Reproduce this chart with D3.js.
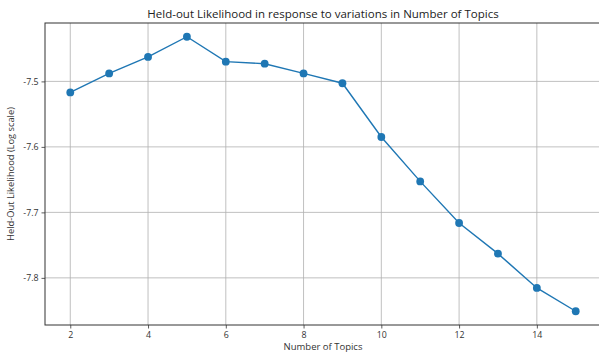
<!DOCTYPE html>
<html><head><meta charset="utf-8">
<script src="https://cdn.jsdelivr.net/npm/d3@7"></script>
<style>body{margin:0;background:#fff}svg{display:block}text{font-family:"Open Sans","Noto Sans",sans-serif}</style>
</head><body><svg id="c" width="599" height="353"></svg>
<script>
const topics = [2,3,4,5,6,7,8,9,10,11,12,13,14,15];
const likelihood = [-7.5168,-7.4878,-7.4627,-7.4318,-7.4699,-7.4730,-7.4878,-7.5028,-7.5849,-7.6527,-7.7162,-7.7630,-7.8154,-7.8510];
const xTicks = [2,4,6,8,10,12,14];
const yTicks = [-7.5,-7.6,-7.7,-7.8];
const title = "Held-out Likelihood in response to variations in Number of Topics";
const xLabel = "Number of Topics";
const yLabel = "Held-Out Likelihood (Log scale)";

const svg = d3.select("#c");
const L=45, R=601, T=23, B=325;
const xmin=d3.min(topics), xmax=d3.max(topics), xm=(xmax-xmin)*0.05;
const ymin=d3.min(likelihood), ymax=d3.max(likelihood), ym=(ymax-ymin)*0.05;
const x=d3.scaleLinear().domain([xmin-xm,xmax+xm]).range([L,R]);
const y=d3.scaleLinear().domain([ymin-ym,ymax+ym]).range([B,T]);

const g=svg.append("g");
g.selectAll(".gx").data(xTicks).enter().append("line")
 .attr("x1",d=>x(d)).attr("x2",d=>x(d)).attr("y1",T).attr("y2",B)
 .attr("stroke","#b0b0b0").attr("stroke-width",0.8);
g.selectAll(".gy").data(yTicks).enter().append("line")
 .attr("y1",d=>y(d)).attr("y2",d=>y(d)).attr("x1",L).attr("x2",R)
 .attr("stroke","#b0b0b0").attr("stroke-width",0.8);

const xa=svg.append("g").attr("transform",`translate(0,${B})`)
 .call(d3.axisBottom(x).tickValues(xTicks).tickSize(3.5).tickPadding(3).tickFormat(d3.format("d")));
const ya=svg.append("g").attr("transform",`translate(${L},0)`)
 .call(d3.axisLeft(y).tickValues(yTicks).tickSize(3.5).tickPadding(3).tickFormat(d=>d3.format(".1f")(d).replace("−","-")));
[xa,ya].forEach(a=>{a.select(".domain").remove();a.selectAll("line").attr("stroke","#333").attr("stroke-width",0.8);
 a.selectAll("text").attr("fill","#333").style("font-size","8.8px");});

svg.append("rect").attr("x",L).attr("y",T).attr("width",R-L).attr("height",B-T)
 .attr("fill","none").attr("stroke","#333").attr("stroke-width",1);

const line=d3.line().x((d,i)=>x(topics[i])).y(d=>y(d));
svg.append("path").datum(likelihood).attr("d",line).attr("fill","none").attr("stroke","#1f77b4").attr("stroke-width",1.4);
svg.selectAll(".pt").data(likelihood).enter().append("circle")
 .attr("cx",(d,i)=>x(topics[i])).attr("cy",d=>y(d)).attr("r",3.9).attr("fill","#1f77b4");

svg.append("text").attr("x",323).attr("y",18).attr("text-anchor","middle")
 .style("font-size","11.5px").attr("fill","#222").text(title);
svg.append("text").attr("x",323).attr("y",350).attr("text-anchor","middle")
 .style("font-size","9.5px").attr("fill","#333").text(xLabel);
svg.append("text").attr("transform",`translate(14,${(T+B)/2}) rotate(-90)`).attr("text-anchor","middle")
 .style("font-size","9.3px").attr("fill","#333").text(yLabel);
</script></body></html>
